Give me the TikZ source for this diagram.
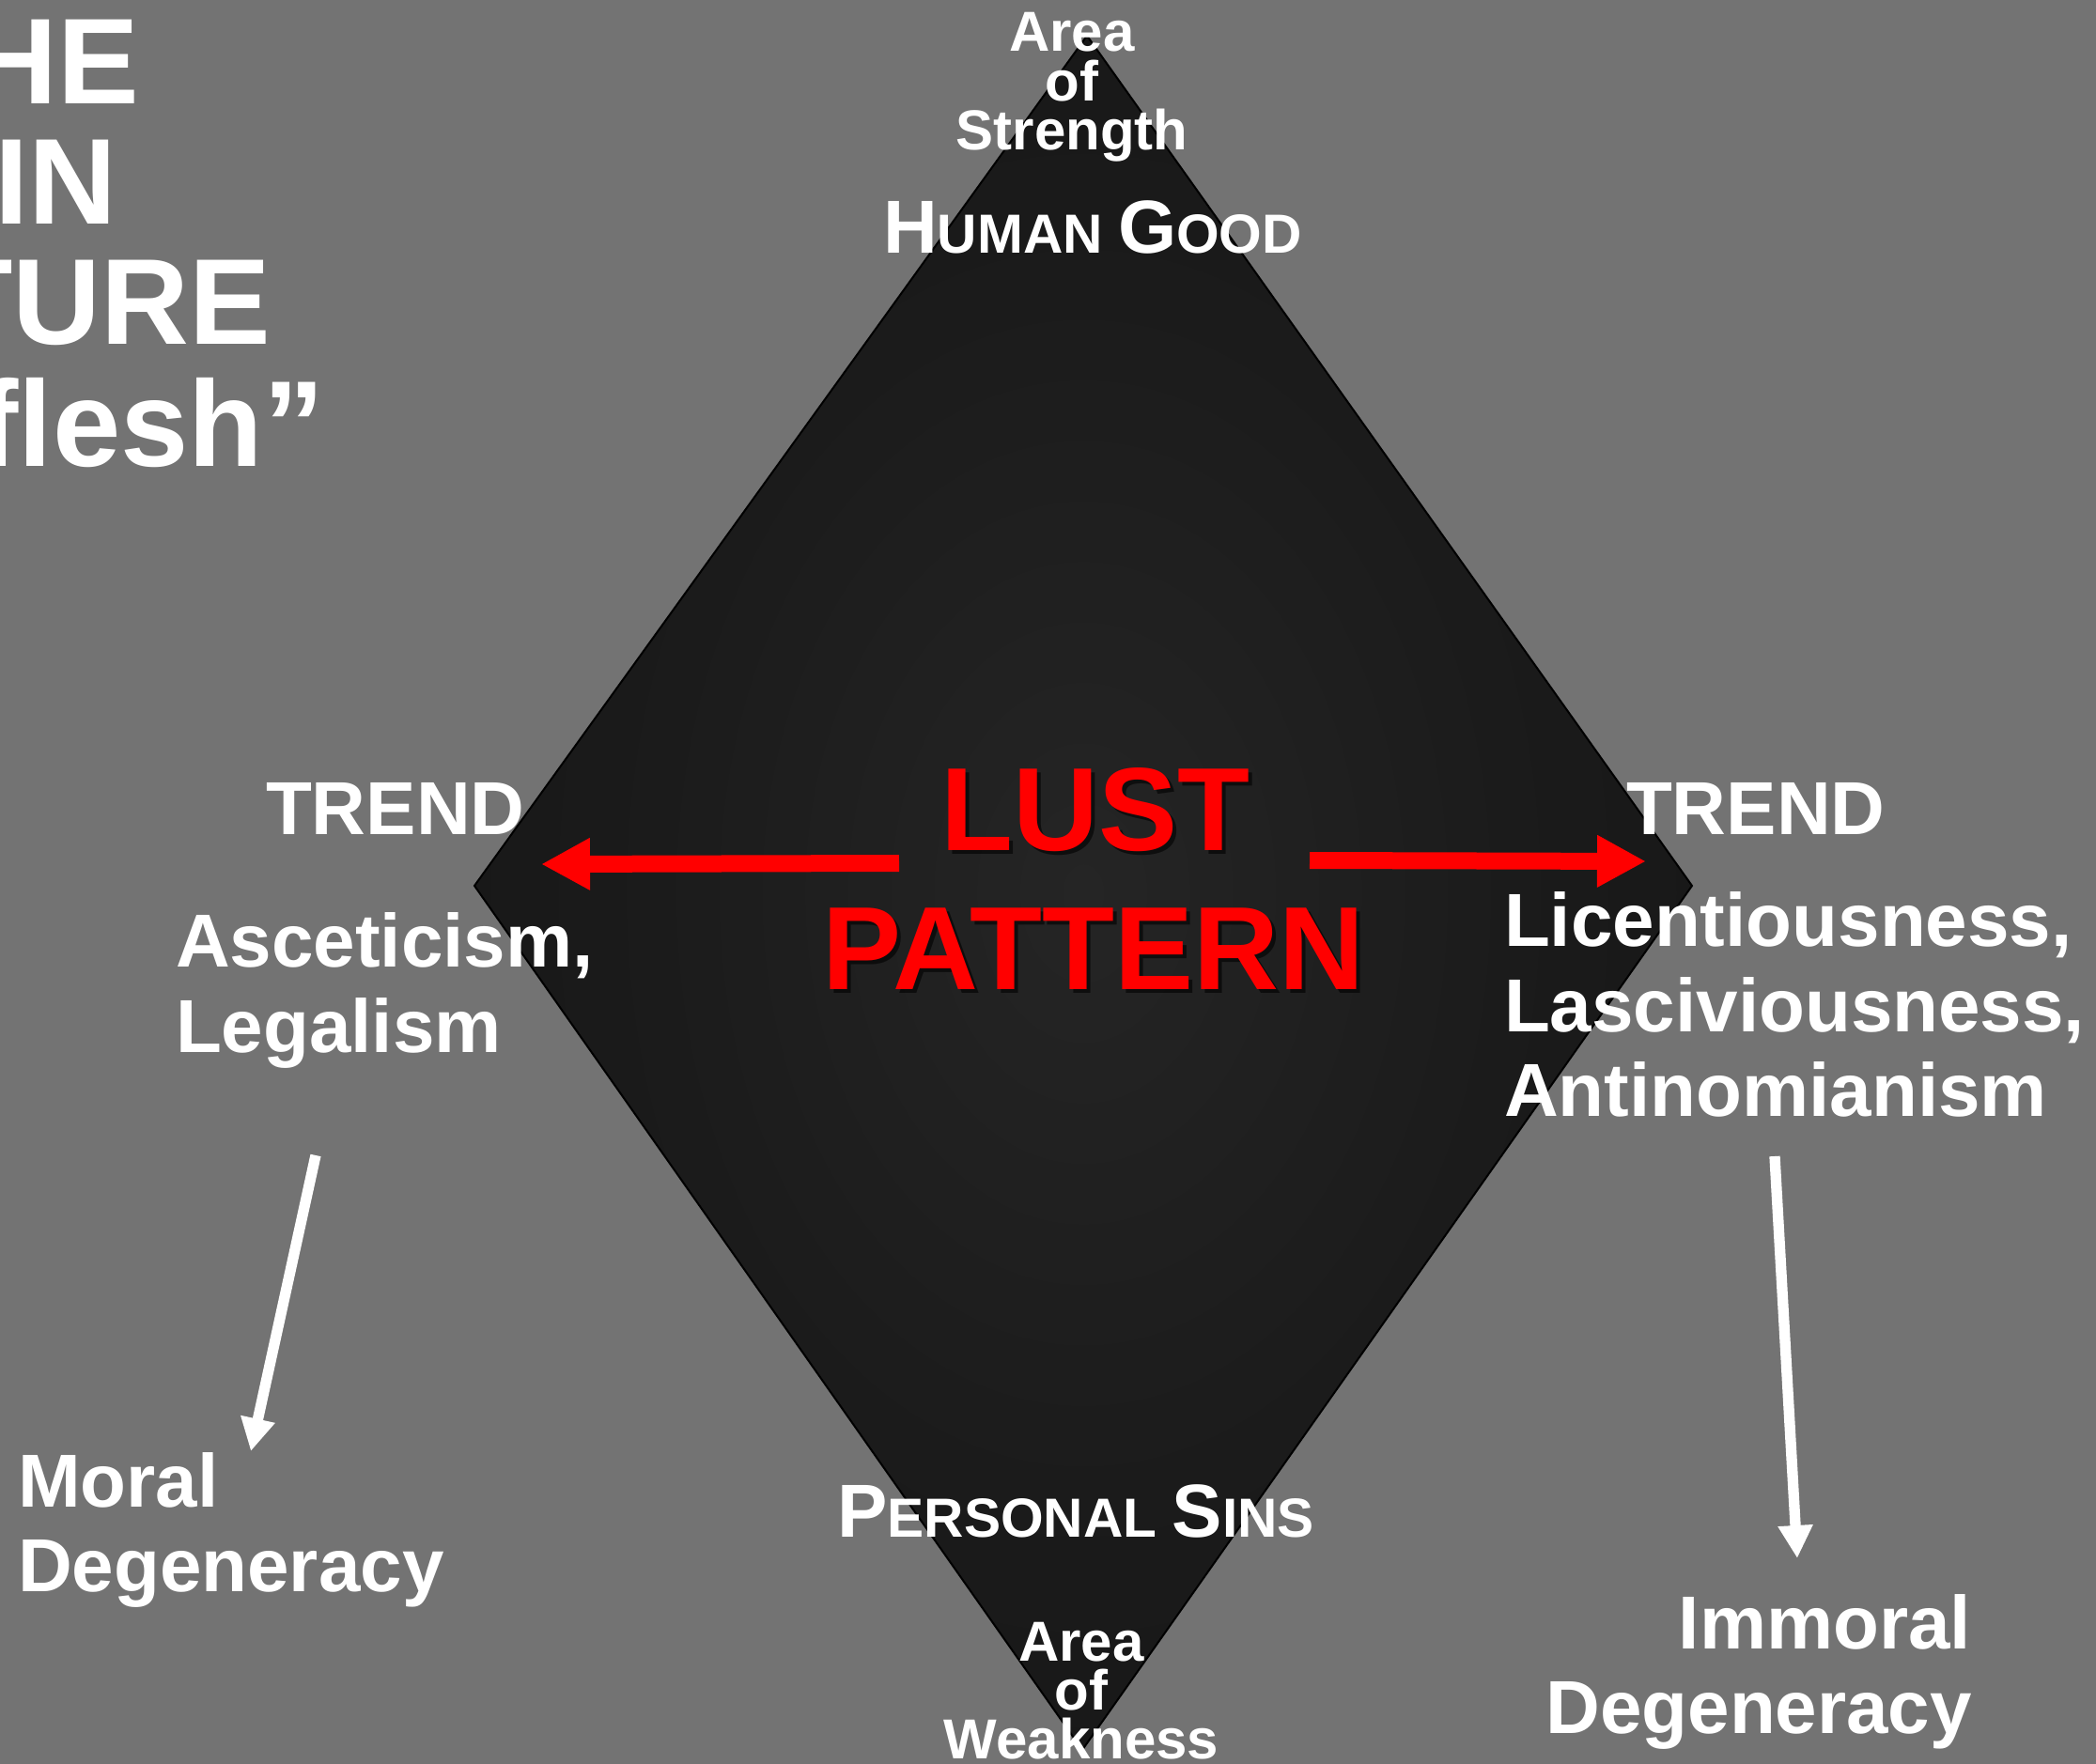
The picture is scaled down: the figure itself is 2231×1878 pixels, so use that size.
\documentclass[tikz,border=0pt]{standalone}
\usepackage{fontspec}
\setmainfont{Liberation Sans}
\usetikzlibrary{arrows.meta}
\definecolor{bg}{RGB}{115,115,115}
\definecolor{lustred}{RGB}{255,0,0}
\pgfdeclareradialshading{diamshade}{\pgfpoint{0bp}{0bp}}{rgb(0bp)=(0.145,0.145,0.145); rgb(18bp)=(0.105,0.105,0.105); rgb(50bp)=(0.06,0.06,0.06)}
\newcommand{\fsz}[1]{\fontsize{#1}{#1}\selectfont}
\newcommand{\scap}[2]{{\fsz{24pt}#1}{\fsz{17.6pt}#2}}
\begin{document}
\begin{tikzpicture}[x=0.3pt,y=-0.3pt,
  txt/.style={text=white, inner sep=0pt, outer sep=0pt},
  titletxt/.style={txt, font=\bfseries\fsz{39pt}, anchor=base east},
  areatxt/.style={txt, font=\bfseries\fsz{18pt}, anchor=base},
  sctxt/.style={txt, font=\bfseries\fsz{17.6pt}, anchor=base},
  lbl/.style={txt, font=\bfseries\fsz{24pt}, anchor=base west},
  lblr/.style={lbl, anchor=base east},
  lusttxt/.style={text=lustred, inner sep=0pt, font=\bfseries\fsz{37.8pt}, anchor=base},
  lustshadow/.style={lusttxt, text=black, text opacity=0.6},
  redarrow/.style={draw=lustred, line width=5.4pt, -{Triangle[length=15.6pt,width=15.6pt]}},
  whitearrow/.style={draw=white, line width=3.4pt, -{Triangle[length=10.5pt,width=10.5pt]}}
]
\useasboundingbox (0,0) rectangle (2231,1878);
\fill[bg] (0,0) rectangle (2231,1878);
\clip (0,0) rectangle (2231,1878);

% diamond
\coordinate (dT) at (1157,38);
\coordinate (dL) at (505,943);
\coordinate (dR) at (1801,943);
\coordinate (dB) at (1152,1863);
\shade[shading=diamshade] (dT) -- (dR) -- (dB) -- (dL) -- cycle;
\draw[black, line width=0.6pt, line join=miter] (dT) -- (dR) -- (dB) -- (dL) -- cycle;

% title fragments
\node[titletxt] (t1) at (148,111) {HE};
\node[titletxt] (t2) at (124,239) {IN};
\node[titletxt] (t3) at (288,367) {TURE};
\node[titletxt] (t4) at (345,496) {flesh”};

% top
\node[areatxt] (as1) at (1141,55) {Area};
\node[areatxt] (as2) at (1141,108) {of};
\node[areatxt] (as3) at (1141,160) {Strength};
\node[sctxt] (hg) at (1163,270) {\scap{H}{UMAN} \scap{G}{OOD}};

% bottom
\node[sctxt] (ps) at (1145,1636) {\scap{P}{ERSONAL} \scap{S}{INS}};
\node[areatxt] (aw1) at (1151,1768) {Area};
\node[areatxt] (aw2) at (1151,1820) {of};
\node[areatxt] (aw3) at (1151,1872) {Weakness};

% center
\node[lustshadow] at (1170,909) {LUST};
\node[lustshadow] at (1168,1057) {PATTERN};
\node[lusttxt] (lust) at (1166,905) {LUST};
\node[lusttxt] (pattern) at (1164,1053) {PATTERN};

% left side
\node[lbl] (trl) at (283,888) {TREND};
\node[lbl] (asc1) at (187,1029) {Asceticism,};
\node[lbl] (asc2) at (187,1120) {Legalism};
\node[lbl] (mor1) at (19,1604) {Moral};
\node[lbl] (mor2) at (19,1694) {Degeneracy};

% right side
\node[lbl] (trr) at (1731,888) {TREND};
\node[lbl] (lic1) at (1601,1007) {Licentiousness,};
\node[lbl] (lic2) at (1601,1098) {Lasciviousness,};
\node[lbl] (lic3) at (1601,1188) {Antinomianism};
\node[lblr] (imm1) at (2098,1755) {Immoral};
\node[lblr] (imm2) at (2099,1845) {Degeneracy};

% arrows
\coordinate (la1) at (957,919);
\coordinate (la2) at (576,920);
\coordinate (ra1) at (1394,916);
\coordinate (ra2) at (1752,917);
\draw[redarrow] (la1) -- (la2);
\draw[redarrow] (ra1) -- (ra2);

\coordinate (wl1) at (336,1230);
\coordinate (wl2) at (267,1545);
\coordinate (wr1) at (1889,1231);
\coordinate (wr2) at (1913,1659);
\draw[whitearrow] (wl1) -- (wl2);
\draw[whitearrow] (wr1) -- (wr2);
\end{tikzpicture}
\end{document}
